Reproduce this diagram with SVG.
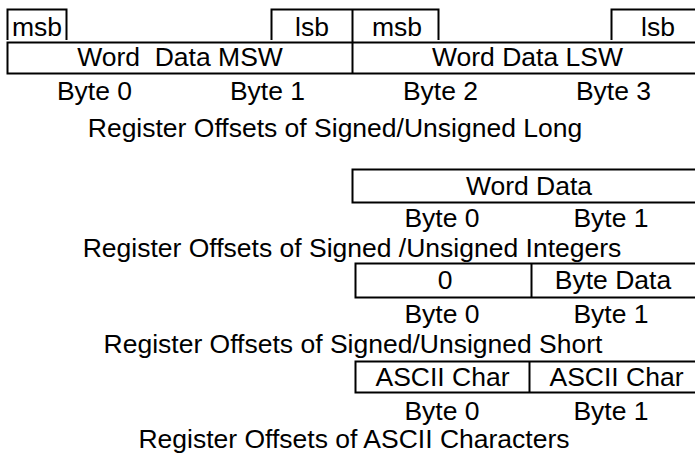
<svg xmlns="http://www.w3.org/2000/svg" width="695" height="454" viewBox="0 0 695 454">
<style>
.ln{fill:none;stroke:#000;stroke-width:2}
text{font-family:"Liberation Sans",Arial,Helvetica,sans-serif;font-size:26.5px;fill:#000}
.m{text-anchor:middle}
</style>
<rect width="695" height="454" fill="#fff"/>
<g id="long">
<path class="ln" d="M7.5,40V9.5H66.5V40"/>
<path class="ln" d="M271.5,40V9.5H438.5V40"/>
<path class="ln" d="M611.5,40V9.5H696"/>
<path class="ln" d="M696,42.5H7.5V73.5H696"/>
<path class="ln" d="M352.5,9.5V73.5"/>
<text x="12" y="36">msb</text>
<text x="295" y="36">lsb</text>
<text x="372" y="36">msb</text>
<text x="641" y="36">lsb</text>
<text class="m" x="180" y="66" xml:space="preserve">Word  Data MSW</text>
<text class="m" x="527.5" y="66">Word Data LSW</text>
<text class="m" x="94.5" y="100">Byte 0</text>
<text class="m" x="267.5" y="100">Byte 1</text>
<text class="m" x="440.5" y="100">Byte 2</text>
<text class="m" x="613.5" y="100">Byte 3</text>
<text class="m" x="335" y="137">Register Offsets of Signed/Unsigned Long</text>
</g>
<g id="integer">
<path class="ln" d="M696,169.5H352.5V202.5H696"/>
<text class="m" x="529" y="195">Word Data</text>
<text class="m" x="442" y="227">Byte 0</text>
<text class="m" x="611" y="227">Byte 1</text>
<text class="m" x="352" y="257">Register Offsets of Signed /Unsigned Integers</text>
</g>
<g id="short">
<path class="ln" d="M696,263.5H355.5V297.5H696"/>
<path class="ln" d="M531.5,263.5V297.5"/>
<text class="m" x="445" y="289">0</text>
<text class="m" x="613" y="289">Byte Data</text>
<text class="m" x="442" y="323">Byte 0</text>
<text class="m" x="611" y="323">Byte 1</text>
<text class="m" x="353" y="353">Register Offsets of Signed/Unsigned Short</text>
</g>
<g id="ascii">
<path class="ln" d="M696,361.5H355.5V392.5H696"/>
<path class="ln" d="M529.5,361.5V392.5"/>
<text class="m" x="442.5" y="386">ASCII Char</text>
<text class="m" x="616.5" y="386">ASCII Char</text>
<text class="m" x="442" y="420">Byte 0</text>
<text class="m" x="611" y="420">Byte 1</text>
<text class="m" x="354" y="448">Register Offsets of ASCII Characters</text>
</g>
</svg>
